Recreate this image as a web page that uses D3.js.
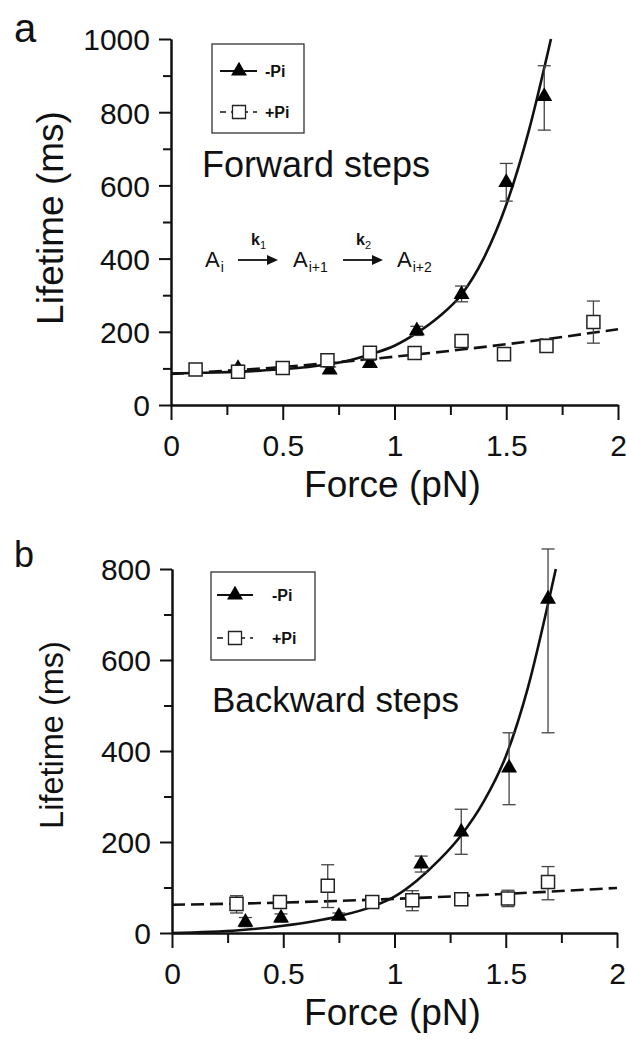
<!DOCTYPE html>
<html>
<head>
<meta charset="utf-8">
<script src="https://cdn.jsdelivr.net/npm/d3@7"></script>
<style>
body { margin: 0; background: #fff; }
svg { display: block; font-family: "Liberation Sans", Arial, Helvetica, sans-serif; }
</style>
</head>
<body>
<svg id="fig" width="626" height="1047"></svg>
<script>
// ---- panel a : forward steps ----
var fwdMinusF  = [0.30, 0.71, 0.89, 1.10, 1.30, 1.50, 1.67];
var fwdMinusT  = [100, 96, 114, 203, 302, 608, 843];
var fwdMinusLo = [92, 88, 106, 190, 282, 557, 751];
var fwdMinusHi = [108, 104, 122, 215, 325, 660, 927];

var fwdPlusF  = [0.11, 0.30, 0.50, 0.70, 0.89, 1.09, 1.30, 1.49, 1.68, 1.89];
var fwdPlusT  = [97, 91, 101, 122, 143, 142, 175, 139, 161, 227];
var fwdPlusLo = [89, 83, 93, 112, 133, 132, 163, 127, 145, 169];
var fwdPlusHi = [105, 99, 109, 132, 153, 152, 187, 151, 180, 284];

var fwdFitMinusF = [0, 0.2, 0.4, 0.6, 0.8, 0.9, 1.0, 1.1, 1.2, 1.3, 1.4, 1.5, 1.6, 1.7];
var fwdFitMinusT = [86, 89, 94, 103, 122, 140, 162, 197, 242, 302, 402, 547, 747, 1000];
var fwdFitPlusF  = [0, 0.5, 1.0, 1.5, 2.0];
var fwdFitPlusT  = [85, 104, 132, 166, 207];

// ---- panel b : backward steps ----
var bwdMinusF  = [0.33, 0.49, 0.75, 1.12, 1.30, 1.515, 1.69];
var bwdMinusT  = [24, 33, 37, 152, 222, 363, 734];
var bwdMinusLo = [14, 24, 30, 134, 173, 282, 440];
var bwdMinusHi = [34, 42, 44, 169, 272, 440, 844];

var bwdPlusF  = [0.29, 0.485, 0.70, 0.90, 1.08, 1.30, 1.51, 1.69];
var bwdPlusT  = [64, 68, 104, 68, 72, 74, 76, 112];
var bwdPlusLo = [44, 55, 56, 60, 49, 66, 58, 73];
var bwdPlusHi = [82, 80, 150, 76, 93, 82, 94, 146];

var bwdFitMinusF = [0, 0.3, 0.5, 0.75, 0.9, 1.0, 1.1, 1.2, 1.3, 1.4, 1.5, 1.6, 1.7, 1.725];
var bwdFitMinusT = [0, 6, 16, 37, 58, 80, 115, 160, 215, 288, 388, 540, 745, 800];
var bwdFitPlusF  = [0, 0.5, 1.0, 1.5, 2.0];
var bwdFitPlusT  = [62, 67, 75, 86, 99];

// ticks
var xMajor = [0, 0.5, 1, 1.5, 2];
var xMinor = [0.25, 0.75, 1.25, 1.75];
var yMajorA = [0, 200, 400, 600, 800, 1000];
var yMinorA = [100, 300, 500, 700, 900];
var yMajorB = [0, 200, 400, 600, 800];
var yMinorB = [100, 300, 500, 700];

var svg = d3.select("#fig");

function zip(a, b) { return a.map(function(v, i) { return [v, b[i]]; }); }

function drawPanel(p)
    {
    var g = svg.append("g");
    var x = d3.scaleLinear().domain([0, 2]).range([p.left, p.right]);
    var y = d3.scaleLinear().domain([0, p.ymax]).range([p.bottom, p.top]);

    // axes
    g.append("g").attr("transform", "translate(0," + p.bottom + ")")
        .call(d3.axisBottom(x).tickValues(xMajor).tickSize(15).tickSizeOuter(0).tickPadding(15)
              .tickFormat(function(d) { return d; }));
    g.append("g").attr("transform", "translate(0," + p.bottom + ")")
        .call(d3.axisBottom(x).tickValues(xMinor).tickSize(10).tickSizeOuter(0).tickFormat(""));
    var ay = g.append("g").attr("transform", "translate(" + p.left + ",0)")
        .call(d3.axisLeft(y).tickValues(p.yMajor).tickSize(12).tickSizeOuter(0).tickPadding(9)
              .tickFormat(d3.format("d")));
    g.append("g").attr("transform", "translate(" + p.left + ",0)")
        .call(d3.axisLeft(y).tickValues(p.yMinor).tickSize(8).tickSizeOuter(0).tickFormat(""));
    g.selectAll(".domain, .tick line").attr("stroke", "#111").attr("stroke-width", 2);
    g.selectAll(".tick text").attr("font-size", 30).attr("fill", "#111")
        .attr("font-family", "'Liberation Sans', Arial, sans-serif");
    ay.selectAll(".tick text").attr("dy", "0.36em");

    // axis titles
    g.append("text").attr("x", (p.left + p.right) / 2 - 2).attr("y", p.bottom + 92)
        .attr("text-anchor", "middle").attr("font-size", 37).attr("fill", "#111")
        .text("Force (pN)");
    g.append("text").attr("transform", "translate(" + p.ytX + "," + p.ytY + ") rotate(-90)")
        .attr("text-anchor", "middle").attr("font-size", p.ytSize).attr("fill", "#111")
        .text("Lifetime (ms)");
    g.append("text").attr("x", 14).attr("y", p.letterY).attr("font-size", p.letterSize)
        .attr("fill", "#111").text(p.letter);
    g.append("text").attr("x", p.noteX).attr("y", p.noteY).attr("font-size", p.noteSize)
        .attr("fill", "#111").text(p.note);

    // fits
    var line = d3.line().x(function(d) { return x(d[0]); }).y(function(d) { return y(d[1]); })
        .curve(d3.curveMonotoneX);
    g.append("path").datum(zip(p.fitPlusF, p.fitPlusT)).attr("d", line)
        .attr("fill", "none").attr("stroke", "#111").attr("stroke-width", 2.6)
        .attr("stroke-dasharray", "13,6");
    g.append("path").datum(zip(p.fitMinusF, p.fitMinusT)).attr("d", line)
        .attr("fill", "none").attr("stroke", "#111").attr("stroke-width", 2.6);

    // error bars
    function errBars(F, lo, hi)
        {
        var eb = g.append("g").attr("stroke", "#444").attr("stroke-width", 1.3);
        F.forEach(function(f, i)
            {
            var cx = x(f);
            eb.append("line").attr("x1", cx).attr("x2", cx).attr("y1", y(lo[i])).attr("y2", y(hi[i]));
            eb.append("line").attr("x1", cx - 6.5).attr("x2", cx + 6.5).attr("y1", y(lo[i])).attr("y2", y(lo[i]));
            eb.append("line").attr("x1", cx - 6.5).attr("x2", cx + 6.5).attr("y1", y(hi[i])).attr("y2", y(hi[i]));
            });
        }
    errBars(p.plusF, p.plusLo, p.plusHi);
    errBars(p.minusF, p.minusLo, p.minusHi);

    // markers
    var sq = d3.symbol().type(d3.symbolSquare).size(170);
    var tri = d3.symbol().type(d3.symbolTriangle).size(110);
    g.selectAll(".tri").data(zip(p.minusF, p.minusT)).enter().append("path")
        .attr("d", tri).attr("transform", function(d) { return "translate(" + x(d[0]) + "," + y(d[1]) + ")"; })
        .attr("fill", "#000");
    g.selectAll(".sq").data(zip(p.plusF, p.plusT)).enter().append("path")
        .attr("d", sq).attr("transform", function(d) { return "translate(" + x(d[0]) + "," + y(d[1]) + ")"; })
        .attr("fill", "#fff").attr("stroke", "#222").attr("stroke-width", 1.5);

    // legend
    var L = p.legend;
    g.append("rect").attr("x", L.x).attr("y", L.y).attr("width", L.w).attr("height", L.h)
        .attr("fill", "#fff").attr("stroke", "#333").attr("stroke-width", 1.3);
    g.append("line").attr("x1", L.lx0).attr("x2", L.lx1).attr("y1", L.r1).attr("y2", L.r1)
        .attr("stroke", "#111").attr("stroke-width", 2);
    g.append("path").attr("d", tri).attr("transform", "translate(" + L.mx + "," + L.r1 + ")").attr("fill", "#000");
    g.append("line").attr("x1", L.lx0).attr("x2", L.lx1).attr("y1", L.r2).attr("y2", L.r2)
        .attr("stroke", "#111").attr("stroke-width", 1.6).attr("stroke-dasharray", "6,5");
    g.append("path").attr("d", sq).attr("transform", "translate(" + L.mx + "," + L.r2 + ")")
        .attr("fill", "#fff").attr("stroke", "#222").attr("stroke-width", 1.3);
    g.append("text").attr("x", L.tx).attr("y", L.r1 + 6).attr("font-size", 16).attr("font-weight", "bold")
        .attr("fill", "#111").text("-Pi");
    g.append("text").attr("x", L.tx).attr("y", L.r2 + 6).attr("font-size", 16).attr("font-weight", "bold")
        .attr("fill", "#111").text("+Pi");
    return g;
    }

var gA = drawPanel({
    left: 171, right: 618, top: 39, bottom: 405, ymax: 1000,
    yMajor: yMajorA, yMinor: yMinorA,
    ytX: 63, ytY: 218, ytSize: 37,
    letter: "a", letterY: 42, letterSize: 40,
    note: "Forward steps", noteX: 202, noteY: 177, noteSize: 36,
    minusF: fwdMinusF, minusT: fwdMinusT, minusLo: fwdMinusLo, minusHi: fwdMinusHi,
    plusF: fwdPlusF, plusT: fwdPlusT, plusLo: fwdPlusLo, plusHi: fwdPlusHi,
    fitMinusF: fwdFitMinusF, fitMinusT: fwdFitMinusT, fitPlusF: fwdFitPlusF, fitPlusT: fwdFitPlusT,
    legend: { x: 212, y: 44, w: 92, h: 89, r1: 71, r2: 112, lx0: 220, lx1: 257, mx: 239, tx: 265 }
});

var gB = drawPanel({
    left: 172, right: 617, top: 569, bottom: 933, ymax: 800,
    yMajor: yMajorB, yMinor: yMinorB,
    ytX: 63, ytY: 735, ytSize: 32.5,
    letter: "b", letterY: 567, letterSize: 36,
    note: "Backward steps", noteX: 212, noteY: 712, noteSize: 35,
    minusF: bwdMinusF, minusT: bwdMinusT, minusLo: bwdMinusLo, minusHi: bwdMinusHi,
    plusF: bwdPlusF, plusT: bwdPlusT, plusLo: bwdPlusLo, plusHi: bwdPlusHi,
    fitMinusF: bwdFitMinusF, fitMinusT: bwdFitMinusT, fitPlusF: bwdFitPlusF, fitPlusT: bwdFitPlusT,
    legend: { x: 211, y: 572, w: 104, h: 88, r1: 595, r2: 638, lx0: 217, lx1: 253, mx: 235, tx: 272 }
});

// reaction scheme in panel a
var sch = gA.append("g").attr("fill", "#111");
function species(x0, sub)
    {
    var t = sch.append("text").attr("x", x0).attr("y", 267).attr("font-size", 22);
    t.append("tspan").text("A");
    t.append("tspan").attr("font-size", 14).attr("dy", 5).attr("dx", 1).text(sub);
    }
function arrow(x0, x1, k)
    {
    sch.append("line").attr("x1", x0).attr("x2", x1 - 8).attr("y1", 260).attr("y2", 260)
        .attr("stroke", "#111").attr("stroke-width", 1.8);
    sch.append("path").attr("d", "M" + x1 + ",260 L" + (x1 - 11) + ",255 L" + (x1 - 11) + ",265 Z");
    var t = sch.append("text").attr("x", (x0 + x1) / 2 - 7).attr("y", 245)
        .attr("font-size", 16).attr("font-weight", "bold");
    t.append("tspan").text("k");
    t.append("tspan").attr("font-size", 11).attr("font-weight", "normal").attr("dy", 4).text(k);
    }
species(205, "i");
arrow(238, 278, "1");
species(293, "i+1");
arrow(343, 383, "2");
species(397, "i+2");
</script>
</body>
</html>
